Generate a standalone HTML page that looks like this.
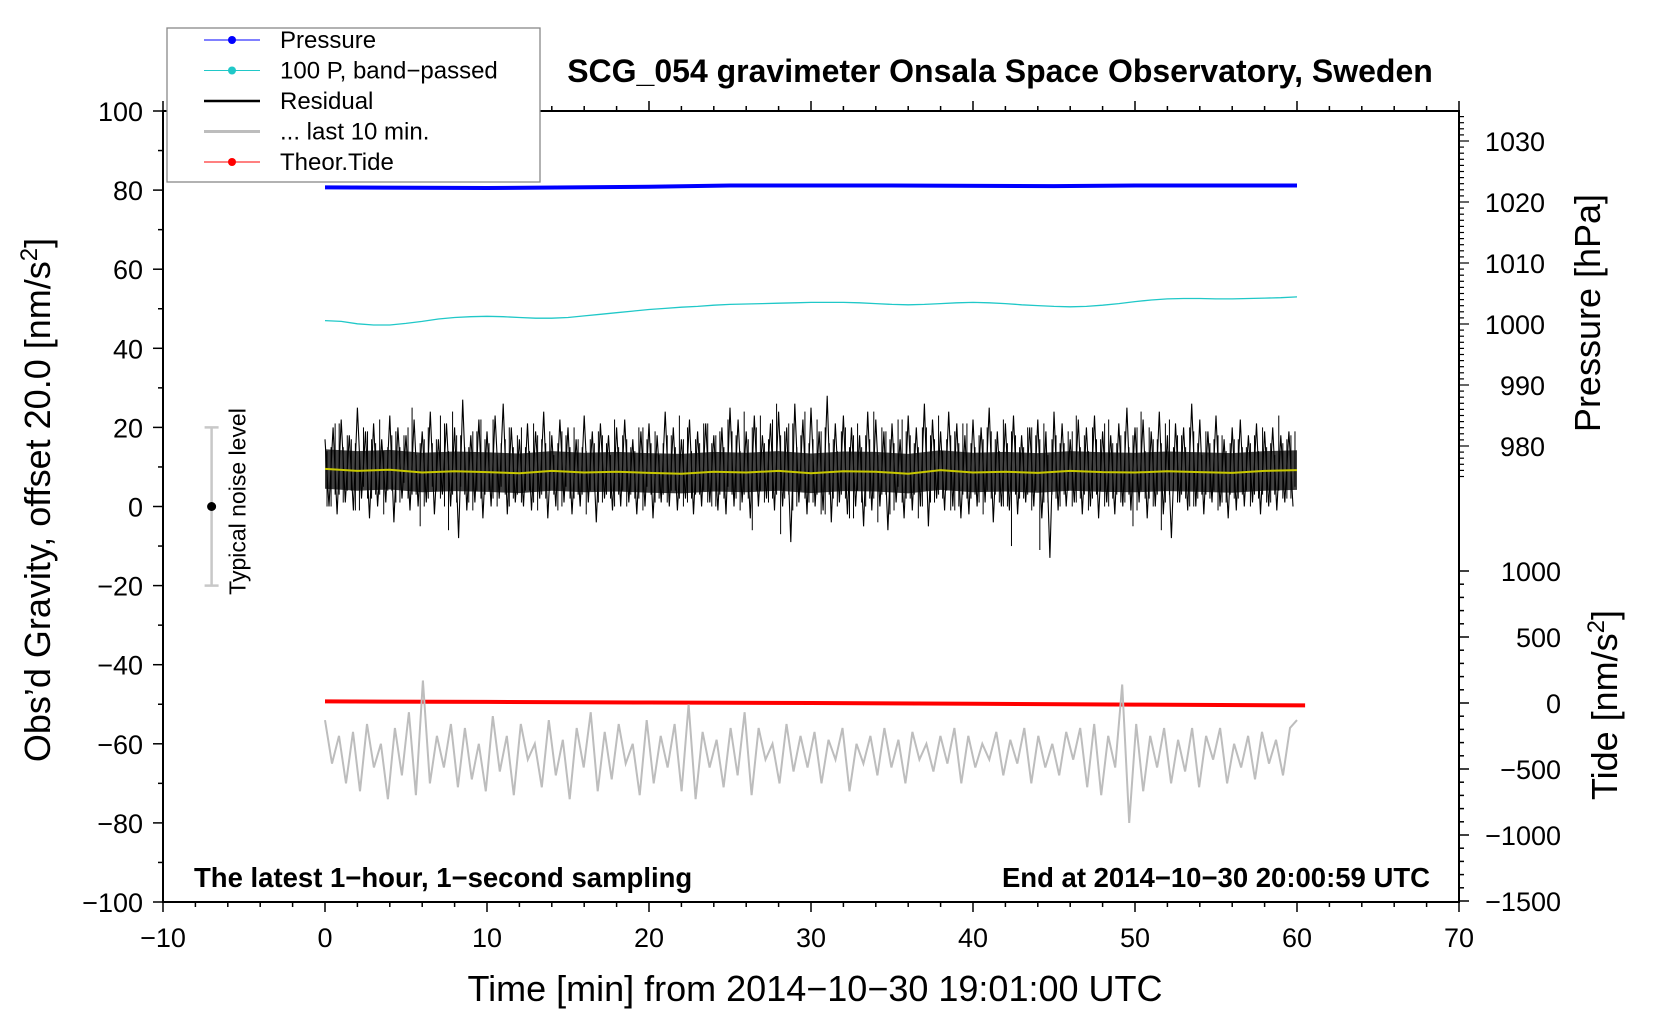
<!DOCTYPE html>
<html><head><meta charset="utf-8"><style>
html,body{margin:0;padding:0;background:#fff;width:1660px;height:1020px;overflow:hidden}
svg{display:block;font-family:"Liberation Sans",Arial,sans-serif}
</style></head><body>
<svg id="chart" width="1660" height="1020" viewBox="0 0 1660 1020" xmlns="http://www.w3.org/2000/svg"></svg>
<script>
// ---- data ----
const xTicks = [-10,0,10,20,30,40,50,60,70];
const yTicks = [-100,-80,-60,-40,-20,0,20,40,60,80,100];
const pTicks = [980,990,1000,1010,1020,1030];
const tTicks = [-1500,-1000,-500,0,500,1000];
const pressureT = [0,10,20,25,35,45,50,60];
const pressureV = [1022.4,1022.3,1022.5,1022.7,1022.7,1022.6,1022.7,1022.7];
const cyanV = [47,46.8,46.2,45.9,45.9,46.3,46.8,47.4,47.8,48,48.1,48,47.8,47.6,47.6,47.8,48.2,48.6,49,49.4,49.8,50.1,50.4,50.6,50.9,51.1,51.2,51.3,51.4,51.5,51.6,51.6,51.6,51.5,51.3,51.1,51.0,51.1,51.3,51.5,51.6,51.5,51.3,51.0,50.8,50.6,50.5,50.6,50.9,51.3,51.8,52.2,52.5,52.6,52.6,52.5,52.5,52.6,52.7,52.8,53.0];
const resMax = [17,20,22,18,25,19,21,17,23,20,18,22,19,24,17,21,20,27,18,22,19,23,26,20,17,21,19,24,18,22,20,17,23,19,21,18,20,22,17,19,21,18,24,20,17,22,19,21,18,20,25,22,19,23,18,21,24,20,26,22,25,19,28,21,23,20,18,24,22,19,21,17,23,20,26,22,19,24,21,18,22,20,25,19,21,23,18,20,22,19,24,21,17,22,20,23,19,18,21,25,20,22,19,24,18,21,20,26,22,19,23,17,20,22,18,21,19,20,18,19];
const resMin = [0,-2,1,-1,2,-3,0,1,-4,2,-1,0,1,-2,3,0,-8,-1,1,-3,0,2,-2,1,0,-1,2,-3,0,1,-2,0,1,-4,2,-1,0,1,-2,0,-3,1,0,-1,2,-2,0,1,-1,-2,0,1,-3,0,2,-1,0,-9,1,-2,0,-1,-4,1,-2,0,-5,-1,0,-6,1,-3,-1,0,-5,2,-1,0,-3,-2,0,1,-4,0,-1,-2,1,0,-3,-13,-1,0,1,-2,0,-3,1,-2,0,-1,1,-3,0,-2,-8,1,-1,0,-2,1,0,-3,-1,0,1,-2,0,-1,1,0];
const meanV = [9.5,9,9.3,8.6,8.9,8.7,8.4,9,8.6,8.8,8.5,8.3,8.8,8.6,9,8.4,8.9,8.8,8.3,9.2,8.6,8.8,8.5,9,8.7,8.6,8.9,8.7,8.5,9,9.2];
const grayV = [-54,-65,-58,-70,-57,-72,-55,-66,-60,-74,-56,-68,-52,-73,-44,-70,-58,-66,-55,-71,-56,-69,-60,-72,-53,-67,-58,-73,-55,-64,-60,-71,-54,-68,-59,-74,-56,-66,-52,-72,-57,-69,-55,-65,-60,-73,-54,-70,-58,-66,-55,-72,-50,-74,-57,-66,-59,-71,-56,-68,-52,-73,-56,-64,-60,-70,-55,-67,-58,-66,-57,-70,-59,-64,-56,-72,-60,-65,-58,-68,-56,-66,-59,-70,-57,-64,-60,-67,-58,-65,-56,-70,-58,-66,-60,-64,-57,-68,-59,-65,-56,-70,-58,-66,-60,-68,-57,-64,-56,-71,-55,-73,-58,-66,-45,-80,-55,-72,-58,-66,-56,-70,-59,-67,-56,-71,-58,-64,-56,-70,-60,-66,-58,-69,-57,-65,-59,-68,-56,-54];
const tideT = [0,10,20,30,40,50,60.5];
const tideV = [12,8,4,0,-6,-12,-18];
// ---- layout ----
const L=163,R=1459,T=111,B=902;
const X = v => L + (v+10)/80*(R-L);
const Y = v => T + (100-v)/200*(B-T);
const YP = p => 141 + (1030-p)*6.1;
const YT = t => 703 - t*0.132;
const NS="http://www.w3.org/2000/svg";
const svg=document.getElementById('chart');
function mk(tag,attrs,parent){const e=document.createElementNS(NS,tag);for(const k in attrs)e.setAttribute(k,attrs[k]);(parent||svg).appendChild(e);return e;}
function txt(s,attrs){const e=mk('text',attrs);e.textContent=s;return e;}
function pts(xs,ys){return xs.map((x,i)=>x.toFixed(1)+','+ys[i].toFixed(1)).join(' ');}

// frame
let fr=mk('rect',{x:L,y:T,width:R-L,height:B-T,fill:'none',stroke:'#000','stroke-width':2});



// x ticks
for(let v=-10;v<=70;v+=2){const big=v%10===0;
 mk('line',{x1:X(v),x2:X(v),y1:B,y2:B+(big?10:5),stroke:'#000','stroke-width':1.5});
 mk('line',{x1:X(v),x2:X(v),y1:T,y2:T-(big?10:5),stroke:'#000','stroke-width':1.5});}
xTicks.forEach(v=>{const t=txt(String(v).replace('-','\u2212'),{x:X(v),y:B+45,'font-size':27,'text-anchor':'middle'});
 
 });
// y ticks
for(let v=-100;v<=100;v+=10){const big=v%20===0;
 mk('line',{x1:L,x2:L-(big?10:5),y1:Y(v),y2:Y(v),stroke:'#000','stroke-width':1.5});}
yTicks.forEach(v=>{const t=txt(String(v).replace('-','\u2212'),{x:L-20,y:Y(v)+10,'font-size':27,'text-anchor':'end'});
 
 });
// pressure ticks
for(let p=975;p<=1034;p+=1){mk('line',{x1:R,x2:R+((p%10===0)?10:5),y1:YP(p),y2:YP(p),stroke:'#000','stroke-width':1.2});}
pTicks.forEach(p=>{const t=txt(String(p),{x:1545,y:YP(p)+10,'font-size':27,'text-anchor':'end'});
 
 });
// tide ticks
for(let v=-1500;v<=1000;v+=100){mk('line',{x1:R,x2:R+(v%500===0?10:5),y1:YT(v),y2:YT(v),stroke:'#000','stroke-width':1.5});}
tTicks.forEach(v=>{const t=txt(String(v).replace('-','\u2212'),{x:1561,y:YT(v)+10,'font-size':27,'text-anchor':'end'});
 
 });

// titles
let tt=txt('SCG_054 gravimeter Onsala Space Observatory, Sweden',{x:1000,y:82,'font-size':32,'font-weight':'bold','text-anchor':'middle'});


let xt=txt('Time [min] from 2014\u221210\u221230 19:01:00 UTC',{x:815,y:1001,'font-size':36,'text-anchor':'middle'});


let yt=mk('text',{transform:'translate(50,500) rotate(-90)','font-size':36,'text-anchor':'middle'});
yt.innerHTML='Obs\u2019d Gravity, offset 20.0 [nm/s<tspan dy="-13" font-size="24">2</tspan><tspan dy="13">]</tspan>';


let pt=txt('Pressure [hPa]',{transform:'translate(1600,313) rotate(-90)','font-size':36,'text-anchor':'middle'});


let tdt=mk('text',{transform:'translate(1617,705) rotate(-90)','font-size':36,'text-anchor':'middle'});
tdt.innerHTML='Tide [nm/s<tspan dy="-13" font-size="24">2</tspan><tspan dy="13">]</tspan>';


let n1=txt('The latest 1\u2212hour, 1\u2212second sampling',{x:194,y:887,'font-size':27.5,'font-weight':'bold'});


let n2=txt('End at 2014\u221210\u221230 20:00:59 UTC',{x:1430,y:887,'font-size':27.5,'font-weight':'bold','text-anchor':'end'});



// noise level bar
mk('line',{x1:X(-7),x2:X(-7),y1:Y(20),y2:Y(-20),stroke:'#c8c8c8','stroke-width':2.5});
mk('line',{x1:X(-7)-7,x2:X(-7)+7,y1:Y(20),y2:Y(20),stroke:'#c8c8c8','stroke-width':2.5});
mk('line',{x1:X(-7)-7,x2:X(-7)+7,y1:Y(-20),y2:Y(-20),stroke:'#c8c8c8','stroke-width':2.5});
let nd=mk('circle',{cx:X(-7),cy:Y(0),r:4.5,fill:'#000'});


let nt=txt('Typical noise level',{transform:`translate(${X(-7)+34},${Y(0)-5}) rotate(-90)`,'font-size':23,'text-anchor':'middle'});



// pressure line
let pl=mk('polyline',{points:pts(pressureT.map(X),pressureV.map(YP)),fill:'none',stroke:'#0000ff','stroke-width':4});


// cyan
let cl=mk('polyline',{points:pts(cyanV.map((v,i)=>X(i*60/(cyanV.length-1))),cyanV.map(Y)),fill:'none',stroke:'#20c8c8','stroke-width':1.3});


// residual band core
const mxs=meanV.map((v,i)=>X(i*60/(meanV.length-1)));
let band=mk('polygon',{points:pts(mxs.concat(mxs.slice().reverse()),meanV.map(v=>Y(v+5)).concat(meanV.slice().reverse().map(v=>Y(v-5)))),fill:'#000','fill-opacity':0.75});


// residual zigzag
const rx=[],ry=[];const n=resMax.length;
for(let i=0;i<n;i++){const a=i*60/n, b=(i+0.5)*60/n;rx.push(X(a),X(b));ry.push(Y(resMax[i]),Y(resMin[i]));}
let rl=mk('polyline',{points:pts(rx,ry),fill:'none',stroke:'#000','stroke-width':1.1});


for(let i=0;i<n;i++){const a=(i+0.25)*60/n;
 mk('line',{x1:X(a),x2:X(a),y1:Y(resMax[(i+3)%n]-4),y2:Y(resMin[(i+1)%n]+2),stroke:'#000','stroke-width':1});
 const c=(i+0.75)*60/n;
 mk('line',{x1:X(c),x2:X(c),y1:Y(resMax[(i+7)%n]-2),y2:Y(resMin[(i+5)%n]+3),stroke:'#000','stroke-width':1});}
let ml=mk('polyline',{points:pts(mxs,meanV.map(Y)),fill:'none',stroke:'#c8c800','stroke-width':2});


// tide
let tl=mk('polyline',{points:pts(tideT.map(X),tideV.map(YT)),fill:'none',stroke:'#ff0000','stroke-width':4});


// gray last 10 min
let gl=mk('polyline',{points:pts(grayV.map((v,i)=>X(i*60/(grayV.length-1))),grayV.map(Y)),fill:'none',stroke:'#bdbdbd','stroke-width':2});



// legend
const lg=mk('g',{});


mk('rect',{x:167,y:28,width:373,height:154,fill:'#fff',stroke:'#888','stroke-width':1.3},lg);
const legNames=['Pressure','100 P, band\u2212passed','Residual','... last 10 min.','Theor.Tide'];
const legCols=['#0000ff','#20c8c8','#000','#bdbdbd','#ff0000'];
const legDot=[true,true,false,false,true];
legNames.forEach((s,i)=>{const y=40+i*30.5;const g=mk('g',{},lg);
 
 
 mk('line',{x1:204,x2:260,y1:y,y2:y,stroke:legCols[i],'stroke-width':legDot[i]?1:(i===2?2.5:3)},g);
 if(legDot[i])mk('circle',{cx:232,cy:y,r:4,fill:legCols[i]},g);
 const t=mk('text',{x:280,y:y+8,'font-size':24},g);t.textContent=s;});
</script>
</body></html>
